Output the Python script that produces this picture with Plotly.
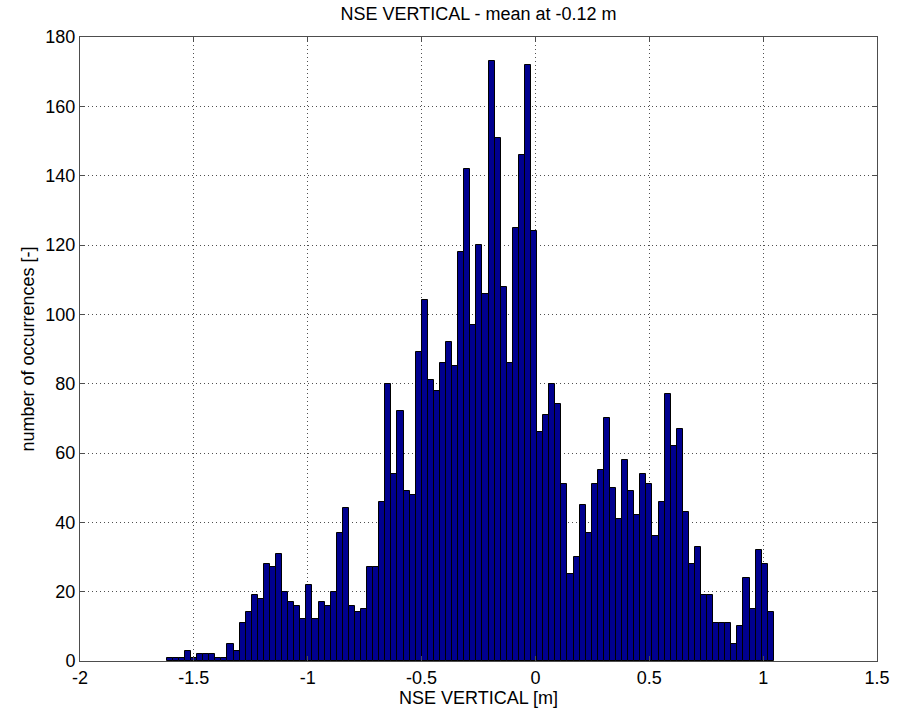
import numpy as np
import plotly.graph_objects as go

# Histogram of NSE vertical deviations: 100 equal-width bins
bin_lo = -1.619
bin_hi = 1.047
n_bins = 100

counts = [
    1, 1, 1, 3, 1, 2, 2, 2, 1, 1,
    5, 3, 11, 14, 19, 18, 28, 27, 31, 20,
    17, 16, 12, 22, 12, 17, 16, 20, 37, 44,
    16, 14, 15, 27, 27, 46, 80, 54, 72, 49,
    48, 89, 104, 81, 78, 86, 92, 85, 118, 142,
    97, 120, 106, 173, 151, 108, 86, 125, 146, 172,
    124, 66, 71, 80, 74, 51, 25, 30, 45, 37,
    51, 55, 70, 50, 41, 58, 49, 42, 54, 51,
    36, 46, 77, 62, 67, 43, 28, 33, 19, 19,
    11, 11, 11, 5, 10, 24, 15, 32, 28, 14,
]

x_ticks = [-2, -1.5, -1, -0.5, 0, 0.5, 1, 1.5]
x_tick_text = ["-2", "-1.5", "-1", "-0.5", "0", "0.5", "1", "1.5"]
y_ticks = [0, 20, 40, 60, 80, 100, 120, 140, 160, 180]

edges = np.linspace(bin_lo, bin_hi, n_bins + 1)
centers = (edges[:-1] + edges[1:]) / 2
width = edges[1] - edges[0]

font = dict(family="Liberation Sans, Arial, sans-serif", size=18, color="black")
axis_line = "#4d4d4d"

fig = go.Figure(
    go.Bar(
        x=centers,
        y=counts,
        width=width,
        marker=dict(color="#00008f", line=dict(color="black", width=1)),
        hoverinfo="x+y",
    )
)

common = dict(
    showline=True,
    linecolor=axis_line,
    linewidth=1,
    mirror="ticks",
    ticks="inside",
    ticklen=5,
    tickcolor=axis_line,
    showgrid=True,
    gridcolor="#505050",
    griddash="1px,3px",
    gridwidth=1,
    zeroline=False,
    tickfont=font,
)

fig.update_layout(
    width=907,
    height=711,
    margin=dict(l=80, r=30, t=37, b=50),
    paper_bgcolor="white",
    plot_bgcolor="white",
    bargap=0,
    showlegend=False,
    font=font,
    title=dict(
        text="NSE VERTICAL - mean at -0.12 m",
        x=0.5,
        xref="paper",
        xanchor="center",
        y=1 - 14 / 711,
        yanchor="middle",
        yref="container",
        font=font,
    ),
    xaxis=dict(
        range=[-2, 1.5],
        tickvals=x_ticks,
        ticktext=x_tick_text,
        title=dict(text="NSE VERTICAL [m]", font=font, standoff=0),
        **common,
    ),
    yaxis=dict(
        range=[0, 180],
        tickvals=y_ticks,
        title=dict(text="number of occurrences [-]", font=font, standoff=6),
        **common,
    ),
)

fig.write_html("out.html")
